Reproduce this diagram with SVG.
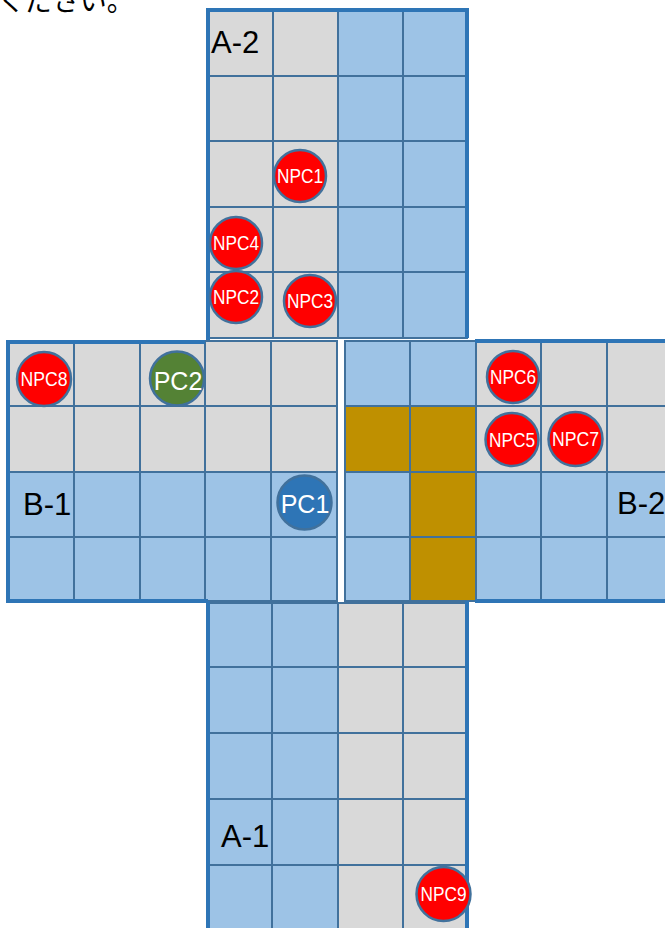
<svg xmlns="http://www.w3.org/2000/svg" width="665" height="928" viewBox="0 0 665 928">
<style>
.g{fill:#D9D9D9;stroke:#41719C;stroke-width:2}
.b{fill:#9DC3E6;stroke:#41719C;stroke-width:2}
.o{fill:#BF9000;stroke:#41719C;stroke-width:2}
.edge{fill:none;stroke:#2E75B6;stroke-width:4}
.lbl{font-family:"Liberation Sans",Arial,sans-serif;font-size:31px;fill:#000}
.npc{fill:#FF0000;stroke:#41719C;stroke-width:2.5}
.pc1{fill:#2E75B6;stroke:#41719C;stroke-width:2.5}
.pc2{fill:#548235;stroke:#41719C;stroke-width:2.5}
.nt{font-family:"Liberation Sans",Arial,sans-serif;font-size:20px;fill:#fff;text-anchor:middle}
.pt{font-family:"Liberation Sans",Arial,sans-serif;font-size:25px;fill:#fff;text-anchor:middle}
.jp{font-family:"Noto Sans CJK JP",sans-serif;font-size:28px;fill:#000}
</style>
<rect width="665" height="928" fill="#fff"/>
<text class="jp" x="-2" y="11" textLength="136" lengthAdjust="spacingAndGlyphs">ください。</text>

<g id="A-2">
<rect class="g" x="208" y="10" width="65" height="66"/><rect class="g" x="273" y="10" width="65" height="66"/><rect class="b" x="338" y="10" width="65" height="66"/><rect class="b" x="403" y="10" width="64" height="66"/>
<rect class="g" x="208" y="76" width="65" height="65"/><rect class="g" x="273" y="76" width="65" height="65"/><rect class="b" x="338" y="76" width="65" height="65"/><rect class="b" x="403" y="76" width="64" height="65"/>
<rect class="g" x="208" y="141" width="65" height="66"/><rect class="g" x="273" y="141" width="65" height="66"/><rect class="b" x="338" y="141" width="65" height="66"/><rect class="b" x="403" y="141" width="64" height="66"/>
<rect class="g" x="208" y="207" width="65" height="65"/><rect class="g" x="273" y="207" width="65" height="65"/><rect class="b" x="338" y="207" width="65" height="65"/><rect class="b" x="403" y="207" width="64" height="65"/>
<rect class="g" x="208" y="272" width="65" height="66"/><rect class="g" x="273" y="272" width="65" height="66"/><rect class="b" x="338" y="272" width="65" height="66"/><rect class="b" x="403" y="272" width="64" height="66"/>
<path class="edge" d="M208,340 V10 H467 V338"/>
<text class="lbl" x="211" y="53">A-2</text>
</g>

<g id="B-1">
<rect class="g" x="8" y="341" width="66" height="65"/><rect class="g" x="74" y="341" width="66" height="65"/><rect class="g" x="140" y="341" width="65" height="65"/><rect class="g" x="205" y="341" width="66" height="65"/><rect class="g" x="271" y="341" width="66" height="65"/>
<rect class="g" x="8" y="406" width="66" height="66"/><rect class="g" x="74" y="406" width="66" height="66"/><rect class="g" x="140" y="406" width="65" height="66"/><rect class="g" x="205" y="406" width="66" height="66"/><rect class="g" x="271" y="406" width="66" height="66"/>
<rect class="b" x="8" y="472" width="66" height="65"/><rect class="b" x="74" y="472" width="66" height="65"/><rect class="b" x="140" y="472" width="65" height="65"/><rect class="b" x="205" y="472" width="66" height="65"/><rect class="b" x="271" y="472" width="66" height="65"/>
<rect class="b" x="8" y="537" width="66" height="64"/><rect class="b" x="74" y="537" width="66" height="64"/><rect class="b" x="140" y="537" width="65" height="64"/><rect class="b" x="205" y="537" width="66" height="64"/><rect class="b" x="271" y="537" width="66" height="64"/>
<path class="edge" d="M205,342 H8 V601 H208"/>
<text class="lbl" x="23" y="515">B-1</text>
</g>

<g id="B-2">
<rect class="b" x="345" y="341" width="65" height="65"/><rect class="b" x="410" y="341" width="66" height="65"/><rect class="g" x="476" y="341" width="65" height="65"/><rect class="g" x="541" y="341" width="66" height="65"/><rect class="g" x="607" y="341" width="66" height="65"/>
<rect class="o" x="345" y="406" width="65" height="66"/><rect class="o" x="410" y="406" width="66" height="66"/><rect class="g" x="476" y="406" width="65" height="66"/><rect class="g" x="541" y="406" width="66" height="66"/><rect class="g" x="607" y="406" width="66" height="66"/>
<rect class="b" x="345" y="472" width="65" height="65"/><rect class="o" x="410" y="472" width="66" height="65"/><rect class="b" x="476" y="472" width="65" height="65"/><rect class="b" x="541" y="472" width="66" height="65"/><rect class="b" x="607" y="472" width="66" height="65"/>
<rect class="b" x="345" y="537" width="65" height="64"/><rect class="o" x="410" y="537" width="66" height="64"/><rect class="b" x="476" y="537" width="65" height="64"/><rect class="b" x="541" y="537" width="66" height="64"/><rect class="b" x="607" y="537" width="66" height="64"/>
<path class="edge" d="M475,341 H665 M475,601 H665"/>
<text class="lbl" x="617" y="514">B-2</text>
</g>

<g id="A-1">
<rect class="b" x="208" y="603" width="64" height="64"/><rect class="b" x="272" y="603" width="66" height="64"/><rect class="g" x="338" y="603" width="65" height="64"/><rect class="g" x="403" y="603" width="64" height="64"/>
<rect class="b" x="208" y="667" width="64" height="66"/><rect class="b" x="272" y="667" width="66" height="66"/><rect class="g" x="338" y="667" width="65" height="66"/><rect class="g" x="403" y="667" width="64" height="66"/>
<rect class="b" x="208" y="733" width="64" height="66"/><rect class="b" x="272" y="733" width="66" height="66"/><rect class="g" x="338" y="733" width="65" height="66"/><rect class="g" x="403" y="733" width="64" height="66"/>
<rect class="b" x="208" y="799" width="64" height="66"/><rect class="b" x="272" y="799" width="66" height="66"/><rect class="g" x="338" y="799" width="65" height="66"/><rect class="g" x="403" y="799" width="64" height="66"/>
<rect class="b" x="208" y="865" width="64" height="66"/><rect class="b" x="272" y="865" width="66" height="66"/><rect class="g" x="338" y="865" width="65" height="66"/><rect class="g" x="403" y="865" width="64" height="66"/>
<path class="edge" d="M208,601 V930 M467,601 V930"/>
<text class="lbl" x="221" y="847">A-1</text>
</g>

<g id="NPC1"><circle class="npc" cx="300" cy="176" r="26"/><text class="nt" x="300" y="183" textLength="46" lengthAdjust="spacingAndGlyphs">NPC1</text></g>
<g id="NPC4"><circle class="npc" cx="236" cy="243" r="26"/><text class="nt" x="236" y="250" textLength="46" lengthAdjust="spacingAndGlyphs">NPC4</text></g>
<g id="NPC2"><circle class="npc" cx="236" cy="297" r="26"/><text class="nt" x="236" y="304" textLength="46" lengthAdjust="spacingAndGlyphs">NPC2</text></g>
<g id="NPC3"><circle class="npc" cx="310" cy="301" r="26"/><text class="nt" x="310" y="308" textLength="46" lengthAdjust="spacingAndGlyphs">NPC3</text></g>
<g id="NPC8"><circle class="npc" cx="44" cy="379" r="27"/><text class="nt" x="44" y="386" textLength="47" lengthAdjust="spacingAndGlyphs">NPC8</text></g>
<g id="PC2"><circle class="pc2" cx="177" cy="378.5" r="27"/><text class="pt" x="178" y="390">PC2</text></g>
<g id="PC1"><circle class="pc1" cx="304.5" cy="502.5" r="27"/><text class="pt" x="305" y="513">PC1</text></g>
<g id="NPC6"><circle class="npc" cx="513" cy="377" r="26"/><text class="nt" x="513" y="384" textLength="46" lengthAdjust="spacingAndGlyphs">NPC6</text></g>
<g id="NPC5"><circle class="npc" cx="512" cy="439.5" r="26.5"/><text class="nt" x="512" y="446.5" textLength="46" lengthAdjust="spacingAndGlyphs">NPC5</text></g>
<g id="NPC7"><circle class="npc" cx="575.5" cy="439" r="27"/><text class="nt" x="575.5" y="446" textLength="47" lengthAdjust="spacingAndGlyphs">NPC7</text></g>
<g id="NPC9"><circle class="npc" cx="443.5" cy="894" r="27"/><text class="nt" x="443.5" y="901" textLength="46" lengthAdjust="spacingAndGlyphs">NPC9</text></g>
<g id="connectors"/>
</svg>
